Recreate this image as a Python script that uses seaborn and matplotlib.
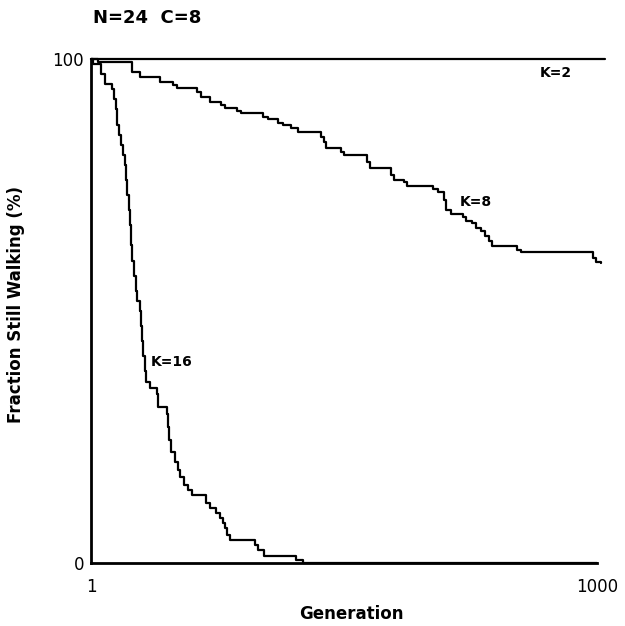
import pandas as pd
import seaborn as sns
import matplotlib.pyplot as plt

# change points: generation where the fraction drops to the new value (%)
k2_gen = [1, 1015]
k2_pct = [100, 100]

k8_gen = [1, 15, 82, 97, 138, 162, 170, 210, 218, 235, 258, 266, 290, 296, 340,
          350, 370, 380, 395, 410, 455, 460, 465, 495, 500, 545, 552, 592, 598,
          618, 625, 675, 685, 698, 702, 712, 735, 740, 752, 760, 770, 778, 786,
          792, 842, 850, 992, 998, 1007]
k8_pct = [100, 99.5, 97.5, 96.5, 95.5, 94.8, 94.3, 93.5, 92.5, 91.5, 90.9, 90.2,
          89.7, 89.2, 88.5, 88.0, 87.4, 86.9, 86.3, 85.6, 84.5, 83.5, 82.3, 81.5,
          81.0, 79.5, 78.3, 77.0, 76.0, 75.5, 74.8, 74.2, 73.7, 72.0, 70.0, 69.2,
          68.7, 67.8, 67.4, 66.5, 65.8, 64.8, 63.8, 62.8, 62.2, 61.7, 60.5, 59.7,
          59.5]

k16_gen = [1, 5, 20, 28, 42, 46, 50, 53, 56, 60, 64, 68, 70, 72, 75, 78, 80, 82,
           86, 89, 92, 97, 99, 101, 104, 107, 110, 117, 131, 134, 150, 152, 155,
           158, 166, 172, 177, 185, 193, 200, 228, 235, 248, 256, 262, 266, 270,
           275, 325, 331, 342, 405, 420, 1000]
k16_pct = [100, 99, 97, 95, 94, 92, 90, 87, 85, 83, 81, 79, 76, 73, 70, 67, 63,
           60, 57, 54, 52, 50, 47, 44, 41, 38, 36, 34.7, 33.5, 31, 29.5, 27, 24.5,
           22, 20, 18.5, 17, 15.5, 14.5, 13.5, 12, 11, 10, 9, 8, 7, 5.5, 4.5, 3.5,
           2.5, 1.3, 0.5, 0, 0]

curves = {'K=2': (k2_gen, k2_pct), 'K=8': (k8_gen, k8_pct), 'K=16': (k16_gen, k16_pct)}
label_pos = {'K=2': (918, 97.2), 'K=8': (760, 71.6), 'K=16': (161, 39.9)}

sns.set_style('white')
plt.rcParams['font.family'] = ['DejaVu Sans']
plt.rcParams['text.color'] = 'black'
plt.rcParams['axes.labelcolor'] = 'black'
plt.rcParams['xtick.color'] = 'black'
plt.rcParams['ytick.color'] = 'black'

fig = plt.figure(figsize=(6.25, 6.26), dpi=100)
ax = fig.add_axes([91 / 625, 63 / 626, 514 / 625, 504 / 626])

for name, (g, p) in curves.items():
    df = pd.DataFrame({'Generation': g, 'Pct': p})
    sns.lineplot(data=df, x='Generation', y='Pct', color='black', linewidth=1.6,
                 drawstyle='steps-post', ax=ax, clip_on=False)
    lx, ly = label_pos[name]
    ax.text(lx, ly, name, ha='center', va='center', fontsize=10, fontweight='bold')

ax.set_xlim(1, 1015)
ax.set_ylim(0, 100)
ax.set_xticks([1, 1000])
ax.set_xticklabels(['1', '1000'])
ax.set_yticks([0, 100])
ax.set_yticklabels(['0', '100'])
ax.tick_params(axis='x', length=0, pad=11, labelsize=12)
ax.tick_params(axis='y', length=0, pad=5, labelsize=12)

sns.despine(ax=ax, top=True, right=True)
ax.spines['left'].set_linewidth(2.0)
ax.spines['left'].set_color('black')
ax.spines['bottom'].set_linewidth(2.0)
ax.spines['bottom'].set_color('black')
ax.spines['bottom'].set_bounds(1, 1000)

ax.set_xlabel('Generation', fontsize=12, fontweight='bold')
ax.set_ylabel('Fraction Still Walking (%)', fontsize=12, fontweight='bold')
ax.xaxis.set_label_coords(0.506, -0.083)
ax.yaxis.set_label_coords(-0.128, 0.512)

fig.text(93 / 625, 1 - 18 / 626, 'N=24  C=8', ha='left', va='center',
         fontsize=13, fontweight='bold')

fig.savefig('out.png', dpi=100)
